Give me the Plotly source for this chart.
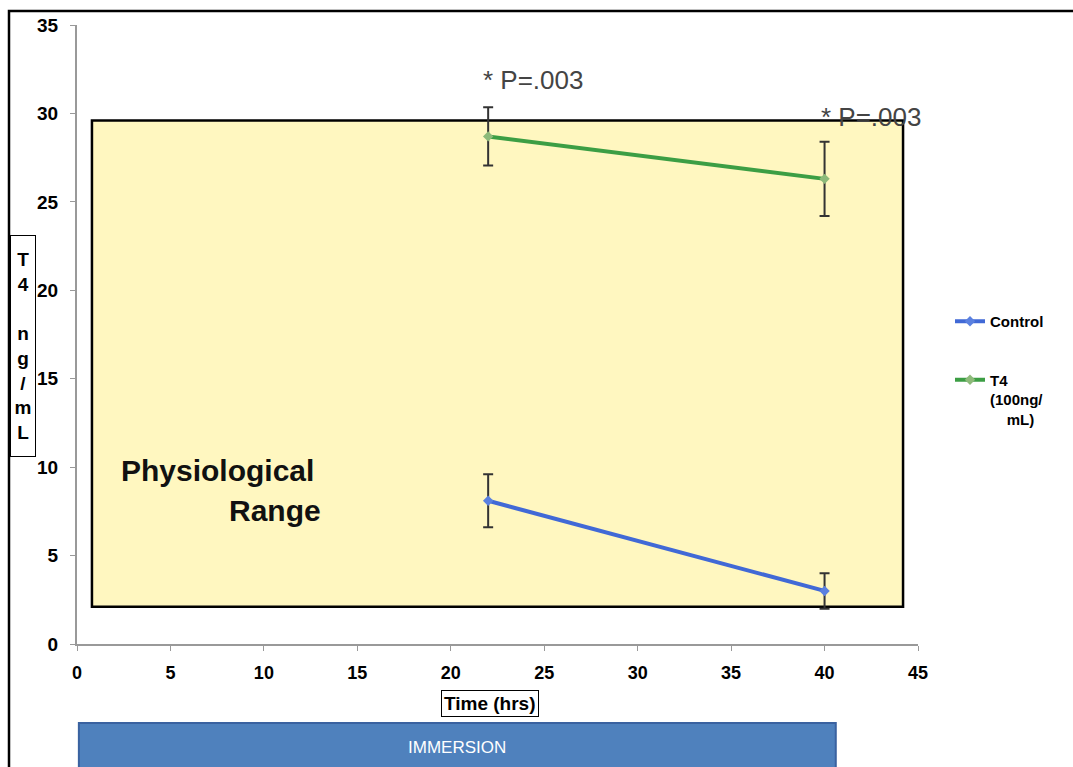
import plotly.graph_objects as go

# ---- data ----
time_hrs = [22, 40]
control_vals = [8.1, 3.0]
control_err = [1.5, 1.0]
t4_vals = [28.7, 26.3]
t4_err = [1.65, 2.1]
x_ticks = [0, 5, 10, 15, 20, 25, 30, 35, 40, 45]
y_ticks = [0, 5, 10, 15, 20, 25, 30, 35]
p_labels = ["* P=.003", "* P=.003"]
p_pos_x = [24.4, 42.5]
p_pos_y = [31.9, 29.8]
range_box = dict(x0=0.8, x1=44.2, y0=2.1, y1=29.6)
immersion_span = [0.1, 40.6]

BLUE = "#4169D6"
GREEN = "#3C9E44"
FONT = "Liberation Sans, Arial, sans-serif"

fig = go.Figure()

fig.add_trace(go.Scatter(
    x=time_hrs, y=control_vals, name="Control", mode="lines+markers",
    line=dict(color=BLUE, width=4),
    marker=dict(color="#5A80E0", size=8, symbol="diamond"),
    error_y=dict(type="data", array=control_err, color="#333333", thickness=2, width=5),
    legendgroup="a",
))
fig.add_trace(go.Scatter(
    x=time_hrs, y=t4_vals, name="T4<br>(100ng/<br>&nbsp;&nbsp;&nbsp;&nbsp;mL)", mode="lines+markers",
    line=dict(color=GREEN, width=4),
    marker=dict(color="#8DBA7A", size=8, symbol="diamond"),
    error_y=dict(type="data", array=t4_err, color="#333333", thickness=2, width=5),
    legendgroup="b",
))

W, H = 1073, 767
L, R, T, B = 77, 155, 25, 123
pw, ph = W - L - R, H - T - B

def px_x(p):
    return (p - L) / pw

def px_y(p):
    return (H - B - p) / ph

shapes = [
    # physiological range box
    dict(type="rect", xref="x", yref="y", layer="below",
         x0=range_box["x0"], x1=range_box["x1"], y0=range_box["y0"], y1=range_box["y1"],
         fillcolor="#FFF7C0", line=dict(color="black", width=2.5)),
    # outer frame
    dict(type="rect", xref="paper", yref="paper",
         x0=px_x(9), x1=px_x(1085), y0=px_y(780), y1=px_y(11),
         line=dict(color="black", width=2.5)),
    # immersion bar
    dict(type="rect", xref="x", yref="paper",
         x0=immersion_span[0], x1=immersion_span[1], y0=px_y(772), y1=px_y(723),
         fillcolor="#4F81BD", line=dict(color="#3A62A0", width=2)),
]

annotations = [
    dict(x=p_pos_x[0], y=p_pos_y[0], xref="x", yref="y", text=p_labels[0], showarrow=False,
         font=dict(family=FONT, size=26, color="#444444")),
    dict(x=p_pos_x[1], y=p_pos_y[1], xref="x", yref="y", text=p_labels[1], showarrow=False,
         font=dict(family=FONT, size=26, color="#444444")),
    dict(x=px_x(119), y=px_y(470), xref="paper", yref="paper", xanchor="left", yanchor="middle",
         text="Physiological", showarrow=False,
         font=dict(family=FONT, size=30, color="#111111", weight="bold")),
    dict(x=px_x(323), y=px_y(511), xref="paper", yref="paper", xanchor="right", yanchor="middle",
         text="Range", showarrow=False,
         font=dict(family=FONT, size=30, color="#111111", weight="bold")),
    # y axis title (stacked letters in a box)
    dict(x=px_x(23), y=px_y(346), xref="paper", yref="paper", xanchor="center", yanchor="middle",
         text="T<br>4<br> <br>n<br>g<br>/<br>m<br>L", showarrow=False,
         width=22, height=218, borderpad=1, bordercolor="black", borderwidth=1,
         bgcolor="white", align="center",
         font=dict(family=FONT, size=19, color="black", weight="bold")),
    # x axis title
    dict(x=px_x(490), y=px_y(703), xref="paper", yref="paper", xanchor="center", yanchor="middle",
         text="Time (hrs)", showarrow=False, borderpad=2, bordercolor="black", borderwidth=1,
         bgcolor="white",
         font=dict(family=FONT, size=19, color="black", weight="bold")),
    dict(x=sum(immersion_span) / 2, y=px_y(747), xref="x", yref="paper", xanchor="center", yanchor="middle",
         text="IMMERSION", showarrow=False,
         font=dict(family=FONT, size=17, color="white")),
]

fig.update_layout(
    width=W, height=H,
    margin=dict(l=L, r=R, t=T, b=B),
    paper_bgcolor="white", plot_bgcolor="white",
    showlegend=True,
    legend=dict(x=px_x(950), y=px_y(305), xanchor="left", yanchor="top",
                bgcolor="rgba(0,0,0,0)", valign="top", itemwidth=30,
                tracegroupgap=36,
                font=dict(family=FONT, size=15, color="black", weight="bold")),
    shapes=shapes, annotations=annotations,
    xaxis=dict(range=[0, 45], tickvals=x_ticks, ticktext=[str(v) for v in x_ticks],
               showgrid=False, zeroline=False, showline=True, linecolor="#999999", linewidth=2,
               ticks="outside", ticklen=5, tickcolor="#999999", ticklabelstandoff=6,
               tickfont=dict(family=FONT, size=18, color="black", weight="bold")),
    yaxis=dict(range=[0, 35], tickvals=y_ticks, ticktext=[str(v) for v in y_ticks],
               showgrid=False, zeroline=False, showline=True, linecolor="#999999", linewidth=2,
               ticks="outside", ticklen=5, tickcolor="#999999", ticklabelstandoff=8,
               tickfont=dict(family=FONT, size=19, color="black", weight="bold")),
)

fig.write_html("out.html", post_script="document.body.style.margin='0';",
               config={"displayModeBar": False})
